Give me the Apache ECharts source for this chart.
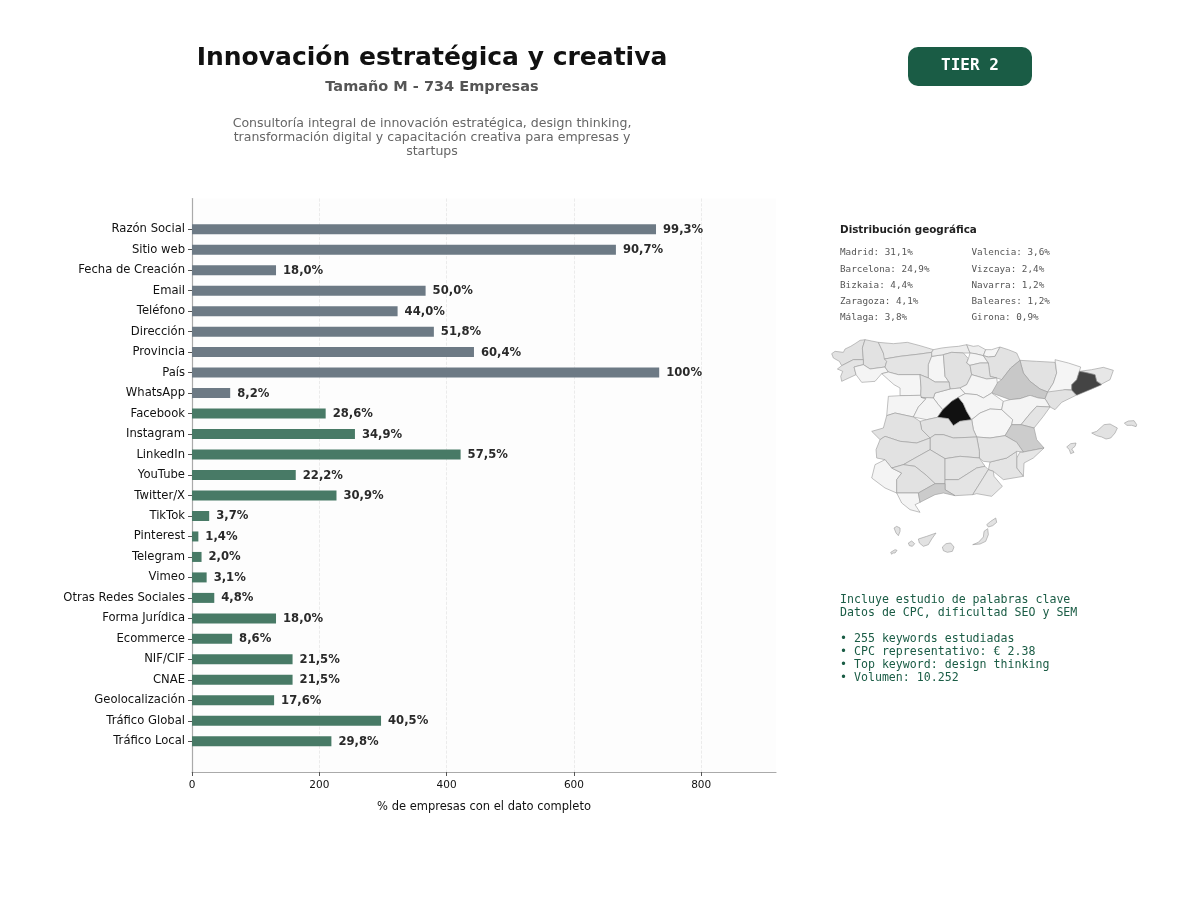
<!DOCTYPE html>
<html>

<head>
  <meta charset="utf-8">
  <title>Innovación estratégica y creativa</title>
  <style>
    html, body { margin: 0; padding: 0; background: #fff; }
    #chart { width: 1200px; height: 900px; }
  </style>
  <script src="https://cdn.jsdelivr.net/npm/echarts@6/dist/echarts.min.js"></script>
</head>

<body>
  <div id="chart"></div>
  <script type="text/javascript">
    // campos, de arriba a abajo
    var categories = ['Razón Social', 'Sitio web', 'Fecha de Creación', 'Email', 'Teléfono', 'Dirección', 'Provincia', 'País', 'WhatsApp',
      'Facebook', 'Instagram', 'LinkedIn', 'YouTube', 'Twitter/X', 'TikTok', 'Pinterest', 'Telegram', 'Vimeo', 'Otras Redes Sociales',
      'Forma Jurídica', 'Ecommerce', 'NIF/CIF', 'CNAE', 'Geolocalización', 'Tráfico Global', 'Tráfico Local'];
    var companies = [729, 666, 132, 367, 323, 380, 443, 734, 60,
      210, 256, 422, 163, 227, 27, 10, 15, 23, 35,
      132, 63, 158, 158, 129, 297, 219];
    var percentLabels = ['99,3%', '90,7%', '18,0%', '50,0%', '44,0%', '51,8%', '60,4%', '100%', '8,2%',
      '28,6%', '34,9%', '57,5%', '22,2%', '30,9%', '3,7%', '1,4%', '2,0%', '3,1%', '4,8%',
      '18,0%', '8,6%', '21,5%', '21,5%', '17,6%', '40,5%', '29,8%'];
    var greyBarCount = 9;
    var xTicks = [0, 200, 400, 600, 800];

    var descriptionLines = ['Consultoría integral de innovación estratégica, design thinking,',
      'transformación digital y capacitación creativa para empresas y', 'startups'];
    var geoColumnA = ['Madrid: 31,1%', 'Barcelona: 24,9%', 'Bizkaia: 4,4%', 'Zaragoza: 4,1%', 'Málaga: 3,8%'];
    var geoColumnB = ['Valencia: 3,6%', 'Vizcaya: 2,4%', 'Navarra: 1,2%', 'Baleares: 1,2%', 'Girona: 0,9%'];
    var keywordIntro = ['Incluye estudio de palabras clave', 'Datos de CPC, dificultad SEO y SEM'];
    var keywordNotes = ['• 255 keywords estudiadas', '• CPC representativo: € 2.38', '• Top keyword: design thinking', '• Volumen: 10.252'];

    // % por provincia, estimado del tono de gris del mapa
    var provinceShares = {
      'A Coruña': 1.2, 'Lugo': 1.2, 'Pontevedra': 1.1, 'Ourense': 0.2, 'Asturias': 0.9, 'León': 1.1, 'Zamora': 0.1, 'Palencia': 0.1,
      'Cantabria': 0.6, 'Burgos': 1.3, 'Bizkaia': 0.5, 'Gipuzkoa': 0.1, 'Álava': 0.2, 'Navarra': 1.2, 'La Rioja': 1.1, 'Huesca': 1.2,
      'Zaragoza': 4.1, 'Lleida': 0.1, 'Girona': 0.9, 'Barcelona': 24.9, 'Tarragona': 1.2, 'Soria': 0.1, 'Segovia': 0.1, 'Valladolid': 1.2,
      'Salamanca': 0.2, 'Ávila': 0.2, 'Madrid': 31.1, 'Guadalajara': 0.1, 'Cuenca': 0.05, 'Teruel': 0.2, 'Castellón': 1.1, 'Valencia': 3.6,
      'Alicante': 1, 'Murcia': 1.1, 'Albacete': 1.1, 'Toledo': 1.2, 'Ciudad Real': 1.2, 'Cáceres': 1.2, 'Badajoz': 1.2, 'Córdoba': 1.2,
      'Jaén': 1.1, 'Granada': 1.1, 'Almería': 1, 'Huelva': 0.2, 'Sevilla': 1.2, 'Cádiz': 0.2, 'Málaga': 3.8, 'Baleares': 1.2, 'Canarias': 1.2
    };

    // contornos dibujados a mano sobre la imagen (x hacia la derecha, y hacia abajo)
    var provinceOutlines = {
      'A Coruña': [[[35, 72], [45, 65], [70, 68], [75, 58], [92, 50], [105, 42], [120, 32], [135, 30], [127, 55], [130, 90], [100, 90], [65, 108], [58, 95], [40, 85]]],
      'Lugo': [[[135, 30], [155, 34], [175, 38], [190, 70], [200, 95], [195, 112], [150, 118], [130, 105], [130, 90], [127, 55]]],
      'Pontevedra': [[[65, 108], [100, 90], [130, 90], [130, 105], [102, 112], [108, 135], [65, 155], [62, 140], [68, 125], [52, 118]]],
      'Ourense': [[[102, 112], [130, 105], [150, 118], [195, 112], [205, 127], [185, 132], [165, 155], [125, 158], [108, 135]]],
      'Asturias': [[[175, 38], [220, 42], [262, 38], [300, 48], [340, 60], [335, 68], [300, 73], [240, 80], [193, 88], [190, 70]]],
      'León': [[[193, 88], [240, 80], [300, 73], [335, 68], [335, 80], [325, 105], [325, 145], [300, 135], [235, 135], [205, 127], [195, 112], [200, 95]]],
      'Zamora': [[[185, 132], [205, 127], [235, 135], [300, 135], [303, 175], [302, 197], [240, 198], [240, 175], [222, 165], [205, 150]]],
      'Palencia': [[[335, 80], [370, 75], [372, 100], [375, 140], [387, 157], [345, 157], [325, 145], [325, 105]]],
      'Cantabria': [[[340, 60], [365, 55], [390, 52], [415, 50], [440, 45], [450, 70], [430, 70], [395, 68], [370, 75], [335, 80], [335, 68]]],
      'Burgos': [[[370, 75], [395, 68], [430, 70], [445, 87], [440, 100], [450, 107], [455, 135], [440, 165], [420, 175], [390, 178], [387, 157], [375, 140], [372, 100]]],
      'Bizkaia': [[[440, 45], [460, 50], [475, 48], [497, 60], [490, 78], [465, 72], [450, 70]]],
      'Gipuzkoa': [[[497, 60], [515, 60], [530, 55], [540, 52], [525, 80], [505, 82], [490, 78]]],
      'Álava': [[[450, 70], [465, 72], [490, 78], [505, 100], [480, 100], [450, 107], [440, 100], [445, 87]]],
      'Navarra': [[[540, 52], [565, 60], [590, 70], [600, 92], [572, 115], [545, 150], [530, 145], [510, 140], [505, 100], [490, 78], [505, 82], [525, 80]]],
      'La Rioja': [[[450, 107], [480, 100], [505, 100], [510, 140], [530, 145], [500, 148], [455, 135]]],
      'Huesca': [[[600, 92], [650, 95], [705, 98], [710, 130], [700, 160], [683, 187], [660, 178], [630, 155], [610, 130], [603, 105]]],
      'Zaragoza': [[[572, 115], [600, 92], [603, 105], [610, 130], [630, 155], [660, 178], [683, 187], [675, 207], [655, 205], [630, 197], [600, 207], [570, 210], [515, 190], [530, 160], [545, 150]]],
      'Lleida': [[[705, 90], [745, 100], [782, 112], [778, 125], [770, 150], [755, 165], [755, 180], [735, 180], [685, 197], [683, 187], [700, 160], [710, 130]]],
      'Girona': [[[778, 125], [815, 120], [850, 113], [880, 122], [870, 150], [845, 163], [830, 155], [825, 135], [795, 128]]],
      'Barcelona': [[[778, 125], [795, 128], [825, 135], [830, 155], [845, 165], [810, 180], [770, 197], [755, 182], [755, 165], [770, 150]]],
      'Tarragona': [[[683, 187], [735, 180], [755, 182], [768, 197], [725, 218], [705, 240], [690, 232], [675, 207]]],
      'Soria': [[[440, 165], [455, 135], [500, 148], [530, 145], [532, 160], [515, 190], [490, 205], [470, 195], [435, 192], [420, 175]]],
      'Segovia': [[[345, 190], [390, 178], [420, 175], [435, 192], [415, 203], [395, 215], [368, 240], [355, 225], [340, 205]]],
      'Valladolid': [[[300, 135], [325, 145], [345, 157], [387, 157], [390, 178], [345, 190], [340, 205], [303, 203], [302, 197], [303, 175]]],
      'Salamanca': [[[205, 200], [240, 198], [302, 197], [303, 203], [318, 207], [295, 232], [280, 262], [225, 250], [200, 258]]],
      'Ávila': [[[303, 203], [340, 205], [355, 225], [368, 240], [352, 263], [320, 270], [280, 262], [295, 232], [318, 207]]],
      'Madrid': [[[415, 203], [430, 222], [440, 245], [455, 270], [420, 275], [400, 288], [385, 267], [352, 263], [368, 240], [395, 215]]],
      'Guadalajara': [[[435, 192], [470, 195], [490, 205], [515, 190], [550, 215], [545, 240], [510, 238], [480, 250], [455, 270], [440, 245], [430, 222], [415, 203]]],
      'Cuenca': [[[455, 270], [480, 250], [510, 238], [545, 240], [578, 270], [575, 285], [555, 318], [510, 325], [470, 322], [460, 300]]],
      'Teruel': [[[550, 215], [570, 210], [600, 207], [630, 197], [655, 205], [675, 207], [690, 232], [650, 230], [630, 252], [603, 285], [575, 285], [578, 270], [545, 240]]],
      'Castellón': [[[650, 230], [690, 232], [670, 260], [642, 295], [603, 285], [630, 252]]],
      'Valencia': [[[575, 285], [603, 285], [642, 295], [650, 330], [672, 355], [610, 367], [590, 338], [555, 318]]],
      'Alicante': [[[610, 367], [672, 355], [640, 385], [612, 400], [610, 440], [590, 415], [590, 385], [600, 367]]],
      'Murcia': [[[505, 420], [510, 397], [560, 385], [590, 365], [590, 415], [610, 440], [550, 450], [520, 425]]],
      'Albacete': [[[470, 322], [510, 325], [555, 318], [590, 338], [610, 367], [590, 365], [560, 385], [510, 397], [490, 395], [478, 385], [478, 365]]],
      'Toledo': [[[300, 275], [320, 270], [352, 263], [385, 267], [400, 288], [420, 275], [455, 270], [460, 300], [470, 322], [400, 325], [370, 315], [345, 315], [330, 325], [305, 300]]],
      'Ciudad Real': [[[345, 315], [370, 315], [400, 325], [470, 322], [478, 365], [478, 385], [420, 380], [375, 387], [330, 360], [330, 325]]],
      'Cáceres': [[[155, 305], [190, 295], [200, 258], [225, 250], [280, 262], [300, 275], [305, 300], [330, 325], [290, 340], [240, 335], [195, 320], [180, 330]]],
      'Badajoz': [[[180, 330], [195, 320], [240, 335], [290, 340], [330, 325], [330, 360], [285, 385], [250, 405], [215, 415], [195, 390], [170, 385], [168, 360]]],
      'Córdoba': [[[285, 385], [330, 360], [375, 387], [375, 450], [375, 462], [345, 462], [320, 438], [285, 410], [250, 405]]],
      'Jaén': [[[375, 387], [420, 380], [478, 385], [495, 410], [470, 415], [415, 450], [375, 450]]],
      'Granada': [[[375, 462], [375, 450], [415, 450], [470, 415], [495, 410], [505, 420], [480, 460], [458, 495], [405, 498], [375, 480]]],
      'Almería': [[[505, 420], [520, 425], [522, 440], [547, 470], [515, 500], [470, 492], [458, 495], [480, 460]]],
      'Huelva': [[[165, 405], [195, 390], [215, 415], [245, 430], [230, 450], [230, 490], [195, 475], [155, 445]]],
      'Sevilla': [[[215, 415], [250, 405], [285, 410], [320, 438], [345, 462], [295, 490], [230, 490], [230, 450], [245, 430]]],
      'Cádiz': [[[230, 490], [295, 490], [300, 518], [285, 525], [300, 548], [270, 540], [245, 520]]],
      'Málaga': [[[295, 490], [345, 462], [375, 462], [375, 480], [405, 498], [370, 490], [345, 495], [300, 518]]],
      'Baleares': [[[815, 310], [830, 305], [852, 285], [870, 283], [892, 295], [885, 310], [872, 325], [858, 328], [845, 322], [830, 318]],
        [[913, 280], [925, 274], [942, 273], [950, 285], [948, 291], [935, 287], [920, 287]],
        [[740, 352], [752, 342], [768, 340], [765, 350], [755, 358], [762, 368], [752, 372], [748, 360]]],
      'Canarias': [[[500, 585], [512, 575], [527, 565], [530, 578], [518, 588], [505, 592]],
        [[458, 645], [475, 638], [490, 622], [492, 605], [503, 597], [505, 615], [497, 635], [480, 643]],
        [[367, 652], [378, 642], [392, 640], [402, 652], [397, 665], [382, 668], [370, 663]],
        [[295, 628], [320, 620], [348, 610], [335, 628], [325, 645], [310, 650], [298, 640]],
        [[265, 640], [275, 634], [284, 642], [277, 650], [268, 648]],
        [[222, 595], [230, 590], [240, 595], [240, 605], [235, 618], [228, 610]],
        [[212, 668], [225, 660], [231, 662], [225, 670], [218, 670], [215, 674]]]
    };

    // tono de gris según el % de la provincia
    function greyForShare(share) {
      var stops = [[0, 247], [1.2, 226], [4.1, 200], [24.9, 68], [31.1, 17]];
      for (var i = 1; i < stops.length; i++) {
        if (share <= stops[i][0]) {
          var t = (share - stops[i - 1][0]) / (stops[i][0] - stops[i - 1][0]);
          var g = Math.round(stops[i - 1][1] + t * (stops[i][1] - stops[i - 1][1]));
          return 'rgb(' + g + ',' + g + ',' + g + ')';
        }
      }
      return '#111';
    }

    var features = [];
    var mapData = [];
    for (var name in provinceOutlines) {
      var polys = [];
      for (var p = 0; p < provinceOutlines[name].length; p++) {
        polys.push([provinceOutlines[name][p].concat([provinceOutlines[name][p][0]])]);
      }
      features.push({ type: 'Feature', properties: { name: name }, geometry: { type: 'MultiPolygon', coordinates: polys } });
      mapData.push({ name: name, value: provinceShares[name], itemStyle: { areaColor: greyForShare(provinceShares[name]) } });
    }
    echarts.registerMap('spain', { type: 'FeatureCollection', features: features });

    // huecos arriba y abajo para que las barras no toquen los bordes
    var axisCategories = [''].concat(categories, ['']);
    var barData = [null];
    for (var i = 0; i < companies.length; i++) {
      barData.push({ value: companies[i], itemStyle: { color: i < greyBarCount ? '#6d7a85' : '#487a66' } });
    }
    barData.push(null);
    var yTicks = [];
    for (var j = 1; j <= categories.length; j++) yTicks.push(j);

    var SANS = '"DejaVu Sans"';
    var MONO = '"DejaVu Sans Mono"';

    function textEl(x, y, text, size, color, weight, family, align, lineHeight) {
      return {
        type: 'text', x: x, y: y,
        style: {
          text: text, fontSize: size, fill: color, fontWeight: weight || 'normal', fontFamily: family || SANS,
          align: align || 'left', verticalAlign: 'middle', lineHeight: lineHeight
        }
      };
    }

    var graphics = [
      textEl(432, 58, 'Innovación estratégica y creativa', 25, '#111', 'bold', SANS, 'center'),
      textEl(432, 87.5, 'Tamaño M - 734 Empresas', 14.5, '#555', 'bold', SANS, 'center'),
      { type: 'rect', shape: { x: 908, y: 47, width: 124, height: 39, r: 10 }, style: { fill: '#1a5c45' } },
      textEl(970, 66, 'TIER 2', 16, '#fff', 'bold', MONO, 'center'),
      textEl(840, 230.5, 'Distribución geográfica', 10.4, '#222', 'bold')
    ];
    for (var d = 0; d < descriptionLines.length; d++) {
      graphics.push(textEl(432, 123.5 + d * 14, descriptionLines[d], 12.55, '#666', 'normal', SANS, 'center'));
    }
    for (var g = 0; g < geoColumnA.length; g++) {
      graphics.push(textEl(840, 253 + g * 16.2, geoColumnA[g], 9.3, '#555', 'normal', MONO));
      graphics.push(textEl(971.5, 253 + g * 16.2, geoColumnB[g], 9.3, '#555', 'normal', MONO));
    }
    for (var k = 0; k < keywordIntro.length; k++) {
      graphics.push(textEl(840, 600 + k * 13, keywordIntro[k], 11.6, '#1a5c45', 'normal', MONO));
    }
    for (var n = 0; n < keywordNotes.length; n++) {
      graphics.push(textEl(840, 638.5 + n * 13, keywordNotes[n], 11.6, '#1a5c45', 'normal', MONO));
    }

    var myChart = echarts.init(document.getElementById('chart'), null, { renderer: 'canvas' });
    myChart.setOption({
      backgroundColor: '#fff',
      animation: false,
      textStyle: { fontFamily: SANS },
      grid: { left: 192, top: 198.5, width: 584, height: 573.5, show: true, backgroundColor: '#fdfdfd', borderWidth: 0 },
      xAxis: {
        type: 'value', min: 0, max: 917.5, interval: 200,
        name: '% de empresas con el dato completo', nameLocation: 'middle', nameGap: 29,
        nameTextStyle: { fontSize: 11.5, color: '#111' },
        axisLine: { show: true, lineStyle: { color: '#aaa', width: 1.2 } },
        axisTick: { show: true, length: 4, lineStyle: { color: '#555' }, customValues: xTicks },
        axisLabel: { fontSize: 10.5, color: '#111', margin: 8, customValues: xTicks },
        splitLine: { show: true, showMinLine: false, lineStyle: { color: '#e6e6e6', type: 'dashed', width: 0.8 } }
      },
      yAxis: {
        type: 'category', inverse: true, data: axisCategories, boundaryGap: true,
        axisLine: { show: true, onZero: false, lineStyle: { color: '#aaa', width: 1.2 } },
        axisTick: { show: true, length: 4, alignWithLabel: true, lineStyle: { color: '#555' }, customValues: yTicks },
        axisLabel: { fontSize: 11.6, color: '#111', margin: 7, interval: 0 },
        splitLine: { show: false }
      },
      series: [
        {
          type: 'bar', data: barData, barWidth: 10,
          label: {
            show: true, position: 'right', distance: 7, fontSize: 11.6, fontWeight: 'bold', color: '#2a2a2a', offset: [0, 0.5],
            formatter: function (params) { return percentLabels[params.dataIndex - 1]; }
          }
        },
        {
          type: 'map', map: 'spain', data: mapData, roam: false, silent: true, aspectScale: 1,
          projection: { project: function (pt) { return pt; }, unproject: function (pt) { return pt; } },
          layoutCenter: [984.2, 447], layoutSize: 305,
          label: { show: false },
          itemStyle: { areaColor: '#eee', borderColor: '#999', borderWidth: 0.6 },
          emphasis: { disabled: true }
        }
      ],
      graphic: graphics
    });
  </script>
</body>

</html>
